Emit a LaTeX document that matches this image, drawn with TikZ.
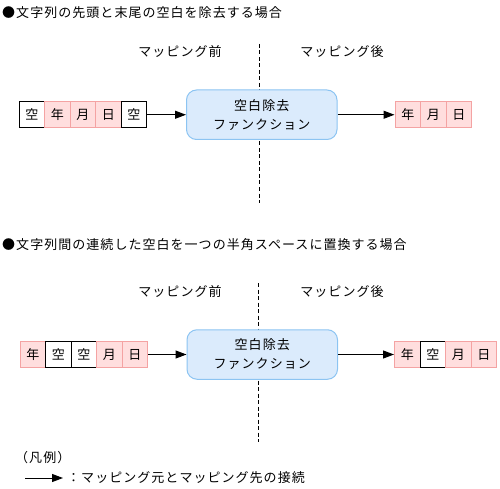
\documentclass[tikz,border=0pt]{standalone}
\usepackage{fontspec}
\setmainfont[LetterSpace=8]{Noto Sans CJK JP}
\usetikzlibrary{arrows.meta}

\definecolor{cellpink}{HTML}{FFDEDE}
\definecolor{cellline}{HTML}{F4A3A3}
\definecolor{funcfill}{HTML}{DBEBFC}
\definecolor{funcline}{HTML}{8CC4F2}

\tikzset{
  kara/.style={draw=black, fill=white, line width=1pt, minimum width=25.5pt, minimum height=25.5pt, inner sep=0pt},
  moji/.style={draw=cellline, fill=cellpink, line width=1pt, minimum width=25.5pt, minimum height=25.5pt, inner sep=0pt},
  func/.style={draw=funcline, fill=funcfill, line width=1pt, rounded corners=10pt, minimum width=150.5pt, minimum height=49.5pt, align=center},
  conn/.style={line width=1pt, -{Triangle[length=11pt,width=8pt]}},
  border/.style={line width=1pt, dash pattern=on 4pt off 2.5pt},
}

\begin{document}
\begin{tikzpicture}[x=1pt, y=-1pt, font=\fontsize{13pt}{19pt}\selectfont]
\useasboundingbox (0,0) rectangle (500,489);

% first case
\node[anchor=west, inner sep=0pt] (title1) at (2,13){●文字列の先頭と末尾の空白を除去する場合};
\node (before1) at (180,52){マッピング前};
\node (after1) at (342,52){マッピング後};
\coordinate (top1) at (259,44);
\coordinate (bot1) at (259,203);
\draw[border] (top1) -- (bot1);
\node[func] (func1) at (261.75,114.75){空白除去\\ファンクション};
\node[kara] (s1) at (31.75,114.75){空};
\node[moji] (s2) at (57.25,114.75){年};
\node[moji] (s3) at (82.75,114.75){月};
\node[moji] (s4) at (108.25,114.75){日};
\node[kara] (s5) at (133.75,114.75){空};
\node[moji] (t1) at (407.75,114.75){年};
\node[moji] (t2) at (433.25,114.75){月};
\node[moji] (t3) at (458.75,114.75){日};
\draw[conn] (s5) -- (func1);
\draw[conn] (func1) -- (t1);

% second case
\node[anchor=west, inner sep=0pt] (title2) at (2,245){●文字列間の連続した空白を一つの半角スペースに置換する場合};
\node (before2) at (180,292){マッピング前};
\node (after2) at (342,292){マッピング後};
\coordinate (top2) at (258,283);
\coordinate (bot2) at (258,442);
\draw[border] (top2) -- (bot2);
\node[func] (func2) at (262.25,354.5){空白除去\\ファンクション};
\node[moji] (u1) at (32.75,354.5){年};
\node[kara] (u2) at (58.25,354.5){空};
\node[kara] (u3) at (83.75,354.5){空};
\node[moji] (u4) at (109.25,354.5){月};
\node[moji] (u5) at (134.75,354.5){日};
\node[moji] (v1) at (407.25,354.5){年};
\node[kara] (v2) at (432.75,354.5){空};
\node[moji] (v3) at (458.25,354.5){月};
\node[moji] (v4) at (483.75,354.5){日};
\draw[conn] (u5) -- (func2);
\draw[conn] (func2) -- (v1);

% legend
\node[anchor=west, inner sep=0pt] (hanrei) at (15,458){（凡例）};
\coordinate (lstart) at (25,478);
\coordinate (lend) at (63,478);
\node[anchor=west, inner sep=0pt] (ltext) at (67,478){：マッピング元とマッピング先の接続};
\draw[conn] (lstart) -- (lend);
\end{tikzpicture}
\end{document}
